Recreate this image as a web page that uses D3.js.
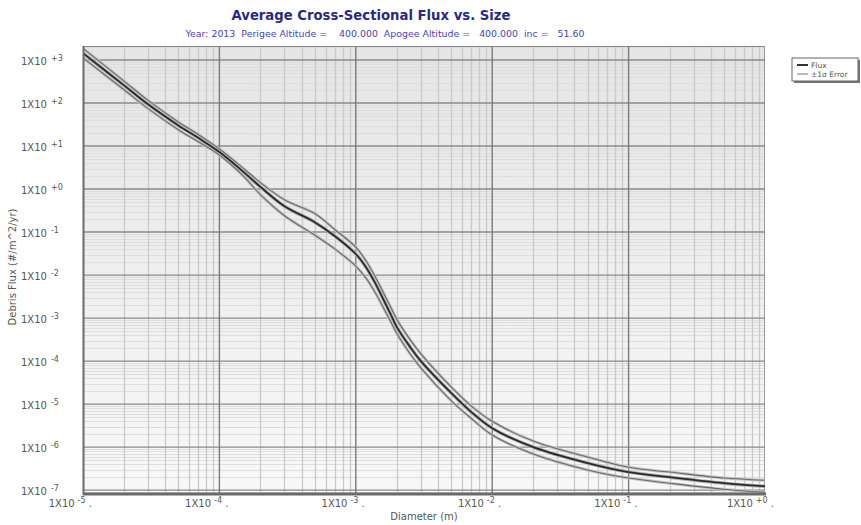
<!DOCTYPE html>
<html><head><meta charset="utf-8">
<script src="https://cdn.jsdelivr.net/npm/d3@7"></script>
<style>body{margin:0;background:#fff}svg{display:block}</style>
</head><body><svg id="c" width="861" height="525"></svg>
<script>
// ---- data ----
const diameters = [1e-5,2e-5,3e-5,5e-5,7e-5,1e-4,1.5e-4,2e-4,3e-4,5e-4,7e-4,1e-3,1.2e-3,1.4e-3,1.6e-3,1.8e-3,2e-3,2.5e-3,3e-3,5e-3,7e-3,1e-2,2e-2,5e-2,1e-1,2e-1,5e-1,1];
const flux = [1445,257,93.3,30.2,15.5,7.24,2.51,1.12,0.398,0.17,0.0813,0.0309,0.0145,6.17e-3,2.63e-3,1.23e-3,6.17e-4,2.14e-4,1.0e-4,1.82e-5,6.61e-6,2.75e-6,1.0e-6,4.27e-7,2.63e-7,2.0e-7,1.45e-7,1.23e-7];
const fluxUpper = [1862,324,115,36.3,18.6,8.51,3.02,1.41,0.562,0.269,0.115,0.0447,0.0204,8.71e-3,3.8e-3,1.82e-3,9.33e-4,3.16e-4,1.48e-4,2.51e-5,9.12e-6,3.98e-6,1.38e-6,5.89e-7,3.39e-7,2.63e-7,1.91e-7,1.7e-7];
const fluxLower = [1122,204,74.1,24.0,12.6,6.17,2.0,0.741,0.24,0.0851,0.0407,0.0162,8.13e-3,3.72e-3,1.7e-3,8.32e-4,4.37e-4,1.48e-4,6.92e-5,1.2e-5,4.68e-6,1.91e-6,6.92e-7,2.95e-7,1.91e-7,1.45e-7,1.05e-7,8.91e-8];
const xTickExps = [-5,-4,-3,-2,-1,0];
const yTickExps = [-7,-6,-5,-4,-3,-2,-1,0,1,2,3];
const expLabel = e => (e >= 0 ? "+" : "") + e;
const titleText = "Average Cross-Sectional Flux vs. Size";
const subtitleText = "Year: 2013  Perigee Altitude =    400.000  Apogee Altitude =   400.000  inc =   51.60";
const xTitle = "Diameter (m)";
const yTitle = "Debris Flux (#/m^2/yr)";
const legendItems = ["Flux", "\u00B11\u03C3 Error"];

// ---- layout ----
const svg = d3.select("#c");
const L = 83, R = 765, T = 46, B = 494;
const x = d3.scaleLog().domain([1e-5, 1]).range([L, R]);
const y = d3.scaleLog().domain([Math.pow(10,-7.09), Math.pow(10,3.326)]).range([B, T]);

const defs = svg.append("defs");
const grad = defs.append("linearGradient").attr("id","bg").attr("x1",0).attr("y1",0).attr("x2",0).attr("y2",1);
grad.append("stop").attr("offset","0%").attr("stop-color","#e5e5e5");
grad.append("stop").attr("offset","100%").attr("stop-color","#f8f8f8");
defs.append("clipPath").attr("id","clip").append("rect").attr("x",L).attr("y",T).attr("width",R-L).attr("height",B-T);

svg.append("rect").attr("x",L).attr("y",T).attr("width",R-L).attr("height",B-T).attr("fill","url(#bg)");

const g = svg.append("g").attr("clip-path","url(#clip)");
// minor grid
const minorX = [], minorY = [];
for (let e=-5;e<0;e++) for (let m=2;m<=9;m++) minorX.push(m*Math.pow(10,e));
for (let e=-8;e<4;e++) for (let m=2;m<=9;m++) minorY.push(m*Math.pow(10,e));
g.selectAll(".my").data(minorY).join("line")
  .attr("x1",L).attr("x2",R).attr("y1",d=>Math.round(y(d))+0.5).attr("y2",d=>Math.round(y(d))+0.5)
  .attr("stroke","#dedede").attr("stroke-width",1);
g.selectAll(".mx").data(minorX).join("line")
  .attr("y1",T).attr("y2",B).attr("x1",d=>Math.round(x(d))+0.5).attr("x2",d=>Math.round(x(d))+0.5)
  .attr("stroke","#c9c9c9").attr("stroke-width",1.3);
// major grid
g.selectAll(".My").data(yTickExps).join("line")
  .attr("x1",L).attr("x2",R).attr("y1",d=>y(Math.pow(10,d))).attr("y2",d=>y(Math.pow(10,d)))
  .attr("stroke","#8a8a8a").attr("stroke-width",1.4);
g.selectAll(".Mx").data(xTickExps).join("line")
  .attr("y1",T).attr("y2",B).attr("x1",d=>x(Math.pow(10,d))).attr("x2",d=>x(Math.pow(10,d)))
  .attr("stroke","#7a7a7a").attr("stroke-width",1.4);

// curves
const mk = arr => d3.line().x((d,i)=>x(diameters[i])).y(d=>y(d)).curve(d3.curveCatmullRom.alpha(0.5))(arr);
[fluxUpper, fluxLower].forEach(arr => {
  g.append("path").attr("d",mk(arr)).attr("fill","none").attr("stroke","#c4c4c4").attr("stroke-width",3);
  g.append("path").attr("d",mk(arr)).attr("fill","none").attr("stroke","#6a6a6a").attr("stroke-width",1.1);
});
g.append("path").attr("d",mk(flux)).attr("fill","none").attr("stroke","#b0b0b0").attr("stroke-width",3.5);
g.append("path").attr("d",mk(flux)).attr("fill","none").attr("stroke","#2a2a2a").attr("stroke-width",1.8);

// frame
svg.append("line").attr("x1",L).attr("x2",R).attr("y1",T+0.5).attr("y2",T+0.5).attr("stroke","#888").attr("stroke-width",1.2);
svg.append("line").attr("x1",L+0.5).attr("x2",L+0.5).attr("y1",T).attr("y2",B+1).attr("stroke","#6a6a6a").attr("stroke-width",2);
svg.append("line").attr("x1",L).attr("x2",R+1).attr("y1",B).attr("y2",B).attr("stroke","#6a6a6a").attr("stroke-width",3);

// tick labels
const font = "DejaVu Sans, Verdana, sans-serif";
const yl = svg.append("g").attr("font-family",font).attr("fill","#555");
yTickExps.forEach(e => {
  const t = yl.append("text").attr("x",21).attr("y",y(Math.pow(10,e))+4.5).attr("font-size",10);
  t.append("tspan").text("1X10");
  t.append("tspan").attr("dx",4).attr("dy",-4).attr("font-size",8).text(expLabel(e));
});
const xl = svg.append("g").attr("font-family",font).attr("fill","#555");
xTickExps.forEach(e => {
  const t = xl.append("text").attr("x",x(Math.pow(10,e))+9).attr("y",507).attr("font-size",10).attr("text-anchor","end");
  t.append("tspan").text("1X10");
  t.append("tspan").attr("dx",3).attr("dy",-4).attr("font-size",8).text(expLabel(e));
  t.append("tspan").attr("dy",4).text(" .");
});

// axis titles
svg.append("text").attr("x",(L+R)/2).attr("y",520).attr("text-anchor","middle")
  .attr("font-family",font).attr("font-size",10).attr("fill","#555").text(xTitle);
svg.append("text").attr("transform","translate(16,267) rotate(-90)").attr("text-anchor","middle")
  .attr("font-family",font).attr("font-size",10).attr("fill","#555").text(yTitle);

// titles
svg.append("text").attr("x",371).attr("y",20).attr("text-anchor","middle")
  .attr("font-family",font).attr("font-weight","bold").attr("font-size",14).attr("fill","#2a2a7e")
  .attr("textLength",279).attr("lengthAdjust","spacingAndGlyphs").text(titleText);
svg.append("text").attr("x",385).attr("y",37).attr("text-anchor","middle").attr("xml:space","preserve")
  .attr("font-family",font).attr("font-size",9).attr("fill","#4646a8")
  .attr("textLength",399).attr("lengthAdjust","spacingAndGlyphs").text(subtitleText);

// legend
const lg = svg.append("g");
lg.append("rect").attr("x",794).attr("y",60).attr("width",66).attr("height",23).attr("fill","#777");
lg.append("rect").attr("x",792).attr("y",58).attr("width",66).attr("height",23).attr("fill","#fff").attr("stroke","#666").attr("stroke-width",1);
lg.selectAll("line").data(legendItems).join("line")
  .attr("x1",797).attr("x2",808).attr("y1",(d,i)=>65+i*9).attr("y2",(d,i)=>65+i*9)
  .attr("stroke",(d,i)=>i?"#777":"#333").attr("stroke-width",(d,i)=>i?1:2);
lg.selectAll("text").data(legendItems).join("text")
  .attr("x",811).attr("y",(d,i)=>68+i*9).attr("font-family",font).attr("font-size",7.5).attr("fill","#555").text(d=>d);
</script></body></html>
